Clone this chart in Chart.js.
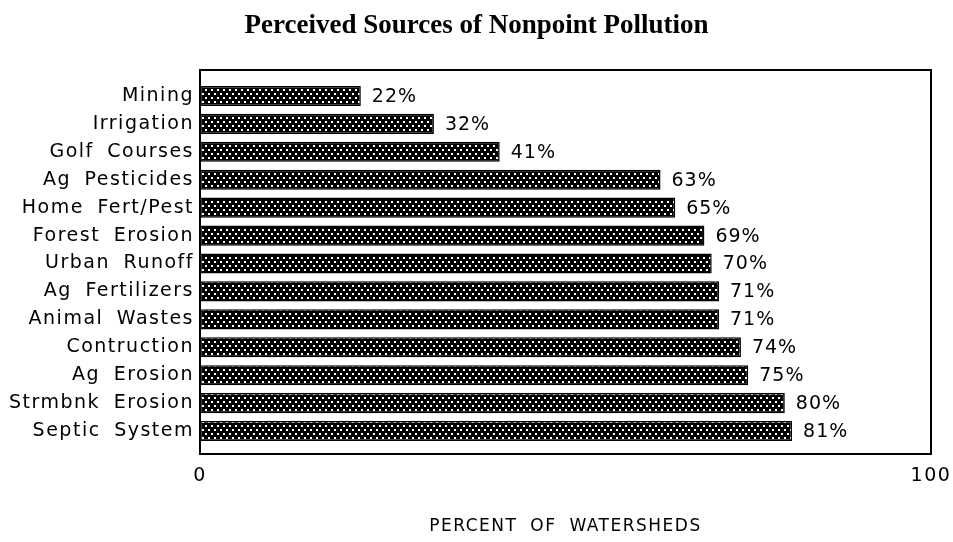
<!DOCTYPE html>
<html><head><meta charset="utf-8">
<script src="https://cdn.jsdelivr.net/npm/chart.js@4.4.1/dist/chart.umd.min.js"></script>
<style>html,body{margin:0;padding:0;background:#fff}canvas{display:block}</style>
</head><body>
<canvas id="c" width="953" height="542"></canvas>
<script>
const categories = ['Mining','Irrigation','Golf Courses','Ag Pesticides','Home Fert/Pest','Forest Erosion','Urban Runoff','Ag Fertilizers','Animal Wastes','Contruction','Ag Erosion','Strmbnk Erosion','Septic System'];
const values = [22,32,41,63,65,69,70,71,71,74,75,80,81];
const xTickValues = [0,100];
const chartTitle = 'Perceived Sources of Nonpoint Pollution';
const xTitle = 'PERCENT OF WATERSHEDS';

const canvas = document.getElementById('c');
const mainCtx = canvas.getContext('2d');
const tile = document.createElement('canvas');
tile.width = 6; tile.height = 8;
const tg = tile.getContext('2d');
tg.fillStyle = '#000'; tg.fillRect(0,0,6,8);
tg.fillStyle = '#fff'; tg.fillRect(1,1,2,2); tg.fillRect(4,5,2,2);
const dotPattern = mainCtx.createPattern(tile,'repeat');

const LS = '1.5px', WS = '6px';
function spacing(ctx, ls, ws){ ctx.letterSpacing = ls; ctx.wordSpacing = ws; }

const deco = {
  id: 'deco',
  beforeLayout(chart){ spacing(chart.ctx,LS,WS); },
  afterLayout(chart){ spacing(chart.ctx,'0px','0px'); },
  beforeDraw(chart){ spacing(chart.ctx,'0px','0px'); },
  afterDatasetsDraw(chart){
    const ctx = chart.ctx;
    const meta = chart.getDatasetMeta(0);
    ctx.save();
    ctx.font = '19px "DejaVu Sans"';
    ctx.letterSpacing = '1px';
    ctx.fillStyle = '#000';
    ctx.textBaseline = 'middle';
    ctx.textAlign = 'left';
    meta.data.forEach((bar,i)=>ctx.fillText(values[i]+'%', bar.x + 11, bar.y + 1));
    ctx.restore();
    const a = chart.chartArea;
    ctx.save();
    ctx.lineWidth = 2;
    ctx.strokeStyle = '#000';
    ctx.strokeRect(a.left, a.top - 12, a.right - a.left, a.bottom - a.top + 21);
    ctx.restore();
    spacing(ctx,LS,WS);
  }
};

new Chart(mainCtx, {
  type: 'bar',
  data: {
    labels: categories,
    datasets: [{
      data: values,
      backgroundColor: dotPattern,
      borderColor: '#000',
      borderWidth: 1.5,
      borderSkipped: false,
      barPercentage: 0.72,
      categoryPercentage: 1
    }]
  },
  options: {
    indexAxis: 'y',
    responsive: false,
    animation: false,
    devicePixelRatio: 1,
    layout: { padding: { left: 0, right: 0, top: 0, bottom: 5 } },
    plugins: {
      legend: { display: false },
      tooltip: { enabled: false },
      title: {
        display: true,
        text: chartTitle,
        color: '#000',
        font: { family: '"Liberation Serif"', size: 27, weight: 'bold', lineHeight: 1.2 },
        padding: { top: 10, bottom: 39.6 }
      }
    },
    scales: {
      x: {
        type: 'linear',
        min: 0, max: 100,
        afterBuildTicks: s => { s.ticks = xTickValues.map(v => ({ value: v })); },
        afterFit: s => { s.height = 92; s.paddingLeft = 0; s.paddingRight = 22; },
        grid: { display: false, drawTicks: false, z: 1 },
        border: { display: false },
        ticks: { z: 1, color: '#000', padding: 20, maxRotation: 0, autoSkip: false,
                 font: { family: '"DejaVu Sans"', size: 19 } },
        title: { display: true, text: xTitle, color: '#000', padding: { top: 0, bottom: 0 },
                 font: { family: '"DejaVu Sans"', size: 17, lineHeight: 1.2 } }
      },
      y: {
        afterFit: s => { s.width = 200; s.paddingTop = 0; s.paddingBottom = 0; },
        grid: { display: false, drawTicks: false, z: 1 },
        border: { display: false },
        ticks: { z: 1, color: '#000', padding: 6, autoSkip: false,
                 font: { family: '"DejaVu Sans"', size: 19 } }
      }
    }
  },
  plugins: [deco]
});
</script>
</body></html>
